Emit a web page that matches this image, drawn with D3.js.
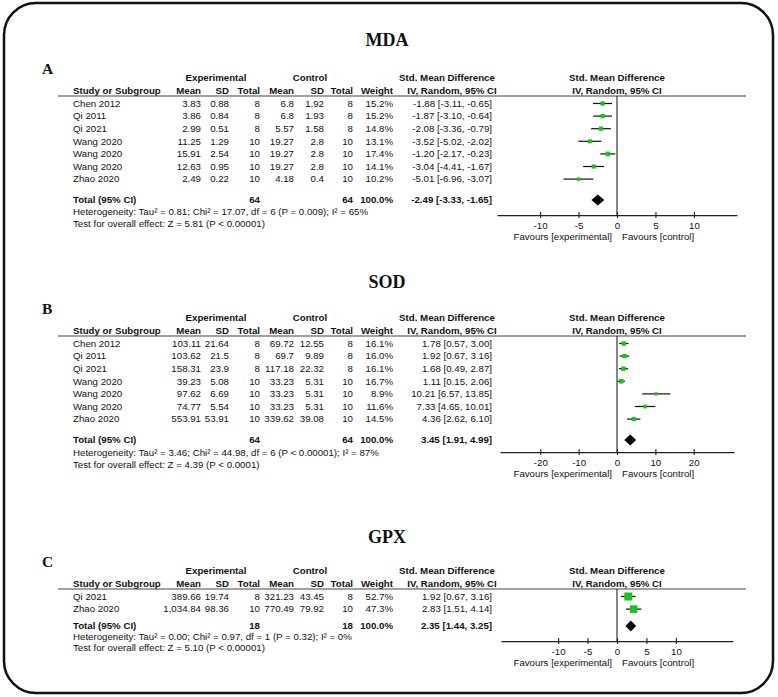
<!DOCTYPE html>
<html>
<head>
<meta charset="utf-8">
<script src="https://cdn.jsdelivr.net/npm/d3@7"></script>
<style>
  body { margin: 0; background: #fff; }
  text { font-family: "Liberation Sans", Arial, sans-serif; font-size: 9.7px; fill: #111; }
  .b { font-weight: bold; }
  .ttl { font-family: "Liberation Serif", "Times New Roman", serif; font-weight: bold; font-size: 18px; }
  .lbl { font-family: "Liberation Serif", "Times New Roman", serif; font-weight: bold; font-size: 15.5px; }
</style>
</head>
<body>
<script>
// MDA
var mdaStudies = ["Chen 2012", "Qi 2011", "Qi 2021", "Wang 2020", "Wang 2020", "Wang 2020", "Zhao 2020"];
var mdaExpMean = [3.83, 3.86, 2.99, 11.25, 15.91, 12.63, 2.49];
var mdaExpSD = [0.88, 0.84, 0.51, 1.29, 2.54, 0.95, 0.22];
var mdaExpN = [8, 8, 8, 10, 10, 10, 10];
var mdaCtlMean = [6.8, 6.8, 5.57, 19.27, 19.27, 19.27, 4.18];
var mdaCtlSD = [1.92, 1.93, 1.58, 2.8, 2.8, 2.8, 0.4];
var mdaCtlN = [8, 8, 8, 10, 10, 10, 10];
var mdaWeight = [15.2, 15.2, 14.8, 13.1, 17.4, 14.1, 10.2];
var mdaSmd = [-1.88, -1.87, -2.08, -3.52, -1.20, -3.04, -5.01];
var mdaLow = [-3.11, -3.10, -3.36, -5.02, -2.17, -4.41, -6.96];
var mdaHigh = [-0.65, -0.64, -0.79, -2.02, -0.23, -1.67, -3.07];
var mdaTotal = [64, 64, -2.49, -3.33, -1.65]; // expN, ctlN, smd, low, high
var mdaHet = "Heterogeneity: Tau\u00b2 = 0.81; Chi\u00b2 = 17.07, df = 6 (P = 0.009); I\u00b2 = 65%";
var mdaTest = "Test for overall effect: Z = 5.81 (P < 0.00001)";
var mdaTicks = [-10, -5, 0, 5, 10];
var mdaLimits = [-15.6, 15.6];

// SOD
var sodStudies = ["Chen 2012", "Qi 2011", "Qi 2021", "Wang 2020", "Wang 2020", "Wang 2020", "Zhao 2020"];
var sodExpMean = [103.11, 103.62, 158.31, 39.23, 97.62, 74.77, 553.91];
var sodExpSD = [21.64, 21.5, 23.9, 5.08, 6.69, 5.54, 53.91];
var sodExpN = [8, 8, 8, 10, 10, 10, 10];
var sodCtlMean = [69.72, 69.7, 117.18, 33.23, 33.23, 33.23, 339.62];
var sodCtlSD = [12.55, 9.89, 22.32, 5.31, 5.31, 5.31, 39.08];
var sodCtlN = [8, 8, 8, 10, 10, 10, 10];
var sodWeight = [16.1, 16.0, 16.1, 16.7, 8.9, 11.6, 14.5];
var sodSmd = [1.78, 1.92, 1.68, 1.11, 10.21, 7.33, 4.36];
var sodLow = [0.57, 0.67, 0.49, 0.15, 6.57, 4.65, 2.62];
var sodHigh = [3.00, 3.16, 2.87, 2.06, 13.85, 10.01, 6.10];
var sodTotal = [64, 64, 3.45, 1.91, 4.99];
var sodHet = "Heterogeneity: Tau\u00b2 = 3.46; Chi\u00b2 = 44.98, df = 6 (P < 0.00001); I\u00b2 = 87%";
var sodTest = "Test for overall effect: Z = 4.39 (P < 0.0001)";
var sodTicks = [-20, -10, 0, 10, 20];
var sodLimits = [-30.5, 30.5];

// GPX
var gpxStudies = ["Qi 2021", "Zhao 2020"];
var gpxExpMean = [389.66, 1034.84];
var gpxExpSD = [19.74, 98.36];
var gpxExpN = [8, 10];
var gpxCtlMean = [321.23, 770.49];
var gpxCtlSD = [43.45, 79.92];
var gpxCtlN = [8, 10];
var gpxWeight = [52.7, 47.3];
var gpxSmd = [1.92, 2.83];
var gpxLow = [0.67, 1.51];
var gpxHigh = [3.16, 4.14];
var gpxTotal = [18, 18, 2.35, 1.44, 3.25];
var gpxHet = "Heterogeneity: Tau\u00b2 = 0.00; Chi\u00b2 = 0.97, df = 1 (P = 0.32); I\u00b2 = 0%";
var gpxTest = "Test for overall effect: Z = 5.10 (P < 0.00001)";
var gpxTicks = [-10, -5, 0, 5, 10];
var gpxLimits = [-19.7, 19.7];

var W = 778, H = 697;
var ZERO_X = 617;
var ROW_STEP = 12.6;
var GREEN = "#1fbf1f";

// column right edges
var COLS = { study: 73, expMean: 201, expSD: 229, expN: 260, ctlMean: 294, ctlSD: 324, ctlN: 353, weight: 393, smd: 492 };

var fNum = d3.format(",");
var f2 = function (v) { return d3.format(".2f")(v).replace("\u2212", "-"); }; // plain hyphen like RevMan
var fW = function (v) { return d3.format(".1f")(v) + "%"; };
var ciText = function (m, l, h) { return f2(m) + " [" + f2(l) + ", " + f2(h) + "]"; };

var svg = d3.select("body").append("svg")
    .attr("width", W)
    .attr("height", H);

svg.append("rect")
    .attr("x", 4).attr("y", 3)
    .attr("width", 769).attr("height", 690)
    .attr("rx", 32).attr("ry", 32)
    .style("fill", "none")
    .style("stroke", "#111")
    .style("stroke-width", 2.5);

var sizeScale = d3.scaleSqrt().domain([0, 100]).range([0, 11]);

var txt = function (g, x, y, s, anchor, cls) {
    return g.append("text")
        .attr("x", x).attr("y", y).attr("dy", "0.35em")
        .attr("text-anchor", anchor || "start")
        .attr("class", cls || null)
        .text(s);
};

var drawPanel = function (p) {
    var g = svg.append("g");
    var hdr2 = p.hdrY;
    var lineY = hdr2 + 5;
    var row0 = hdr2 + 12.5;
    var lastRow = row0 + (p.studies.length - 1) * ROW_STEP;
    var totalY = lastRow + p.totalGap;
    var axisY = totalY + p.axisGap;

    g.append("text").attr("class", "ttl").attr("x", 387).attr("y", p.titleY).attr("dy", "0.35em")
        .attr("text-anchor", "middle").text(p.title);
    g.append("text").attr("class", "lbl").attr("x", 42).attr("y", hdr2 - 22).attr("dy", "0.35em")
        .text(p.letter);

    // headers
    txt(g, 216, hdr2 - 13, "Experimental", "middle", "b");
    txt(g, 310, hdr2 - 13, "Control", "middle", "b");
    txt(g, 447, hdr2 - 13, "Std. Mean Difference", "middle", "b");
    txt(g, ZERO_X, hdr2 - 13, "Std. Mean Difference", "middle", "b");
    txt(g, COLS.study, hdr2, "Study or Subgroup", "start", "b");
    txt(g, COLS.expMean, hdr2, "Mean", "end", "b");
    txt(g, COLS.expSD, hdr2, "SD", "end", "b");
    txt(g, COLS.expN, hdr2, "Total", "end", "b");
    txt(g, COLS.ctlMean, hdr2, "Mean", "end", "b");
    txt(g, COLS.ctlSD, hdr2, "SD", "end", "b");
    txt(g, COLS.ctlN, hdr2, "Total", "end", "b");
    txt(g, COLS.weight, hdr2, "Weight", "end", "b");
    txt(g, 452, hdr2, "IV, Random, 95% CI", "middle", "b");
    txt(g, ZERO_X, hdr2, "IV, Random, 95% CI", "middle", "b");

    g.append("line")
        .attr("x1", 58).attr("x2", 746)
        .attr("y1", lineY).attr("y2", lineY)
        .style("stroke", "#444").style("stroke-width", 1.2);

    var x = d3.scaleLinear().domain(p.limits).range([ZERO_X - p.half, ZERO_X + p.half]);

    // study rows
    p.studies.forEach(function (s, i) {
        var y = row0 + i * ROW_STEP;
        txt(g, COLS.study, y, s);
        txt(g, COLS.expMean, y, fNum(p.expMean[i]), "end");
        txt(g, COLS.expSD, y, fNum(p.expSD[i]), "end");
        txt(g, COLS.expN, y, p.expN[i], "end");
        txt(g, COLS.ctlMean, y, fNum(p.ctlMean[i]), "end");
        txt(g, COLS.ctlSD, y, fNum(p.ctlSD[i]), "end");
        txt(g, COLS.ctlN, y, p.ctlN[i], "end");
        txt(g, COLS.weight, y, fW(p.weight[i]), "end");
        txt(g, COLS.smd, y, ciText(p.smd[i], p.low[i], p.high[i]), "end");
    });

    // zero line
    g.append("line")
        .attr("x1", x(0)).attr("x2", x(0))
        .attr("y1", lineY).attr("y2", axisY)
        .style("stroke", "#222").style("stroke-width", 1.1);

    // CI lines + squares
    g.selectAll("line.ci")
        .data(p.studies)
        .enter()
        .append("line")
        .attr("class", "ci")
        .attr("x1", function (d, i) { return x(p.low[i]); })
        .attr("x2", function (d, i) { return x(p.high[i]); })
        .attr("y1", function (d, i) { return row0 + i * ROW_STEP; })
        .attr("y2", function (d, i) { return row0 + i * ROW_STEP; })
        .style("stroke", "#111")
        .style("stroke-width", 1.2);

    g.selectAll("rect.sq")
        .data(p.studies)
        .enter()
        .append("rect")
        .attr("class", "sq")
        .attr("x", function (d, i) { return x(p.smd[i]) - sizeScale(p.weight[i]) / 2; })
        .attr("y", function (d, i) { return row0 + i * ROW_STEP - sizeScale(p.weight[i]) / 2; })
        .attr("width", function (d, i) { return sizeScale(p.weight[i]); })
        .attr("height", function (d, i) { return sizeScale(p.weight[i]); })
        .style("fill", GREEN);

    // total row
    txt(g, COLS.study, totalY, "Total (95% CI)", "start", "b");
    txt(g, COLS.expN, totalY, p.total[0], "end", "b");
    txt(g, COLS.ctlN, totalY, p.total[1], "end", "b");
    txt(g, COLS.weight, totalY, fW(100), "end", "b");
    txt(g, COLS.smd, totalY, ciText(p.total[2], p.total[3], p.total[4]), "end", "b");
    txt(g, COLS.study, totalY + p.noteStep, p.het);
    txt(g, COLS.study, totalY + 2 * p.noteStep, p.test);

    g.append("polygon")
        .attr("points", [
            [x(p.total[3]), totalY],
            [x(p.total[2]), totalY - 5.5],
            [x(p.total[4]), totalY],
            [x(p.total[2]), totalY + 5.5]
        ].join(" "))
        .style("fill", "#000");

    // axis
    var ax = g.append("g")
        .attr("transform", "translate(0," + axisY + ")")
        .call(d3.axisBottom(x)
            .tickValues(p.ticks)
            .tickFormat(function (d) { return String(d); })
            .tickSizeInner(3)
            .tickSizeOuter(0)
            .tickPadding(4));
    ax.select(".domain").style("stroke", "#222").style("stroke-width", 1.2);
    ax.selectAll(".tick line").attr("y1", -3).attr("y2", 3).style("stroke", "#222").style("stroke-width", 1.1);
    ax.selectAll(".tick text")
        .style("font-family", "'Liberation Sans', Arial, sans-serif")
        .style("font-size", "9.7px")
        .style("fill", "#111");

    txt(g, x(0) - 5, axisY + 22, "Favours [experimental]", "end");
    txt(g, x(0) + 5, axisY + 22, "Favours [control]", "start");
};

drawPanel({
    title: "MDA", letter: "A", titleY: 40, hdrY: 91, totalGap: 21, axisGap: 15, noteStep: 12, half: 120,
    studies: mdaStudies, expMean: mdaExpMean, expSD: mdaExpSD, expN: mdaExpN,
    ctlMean: mdaCtlMean, ctlSD: mdaCtlSD, ctlN: mdaCtlN, weight: mdaWeight,
    smd: mdaSmd, low: mdaLow, high: mdaHigh, total: mdaTotal,
    het: mdaHet, test: mdaTest, ticks: mdaTicks, limits: mdaLimits
});

drawPanel({
    title: "SOD", letter: "B", titleY: 282, hdrY: 331, totalGap: 21, axisGap: 12, noteStep: 12.5, half: 117,
    studies: sodStudies, expMean: sodExpMean, expSD: sodExpSD, expN: sodExpN,
    ctlMean: sodCtlMean, ctlSD: sodCtlSD, ctlN: sodCtlN, weight: sodWeight,
    smd: sodSmd, low: sodLow, high: sodHigh, total: sodTotal,
    het: sodHet, test: sodTest, ticks: sodTicks, limits: sodLimits
});

drawPanel({
    title: "GPX", letter: "C", titleY: 537, hdrY: 584, totalGap: 17, axisGap: 15, noteStep: 11, half: 116,
    studies: gpxStudies, expMean: gpxExpMean, expSD: gpxExpSD, expN: gpxExpN,
    ctlMean: gpxCtlMean, ctlSD: gpxCtlSD, ctlN: gpxCtlN, weight: gpxWeight,
    smd: gpxSmd, low: gpxLow, high: gpxHigh, total: gpxTotal,
    het: gpxHet, test: gpxTest, ticks: gpxTicks, limits: gpxLimits
});
</script>
</body>
</html>
